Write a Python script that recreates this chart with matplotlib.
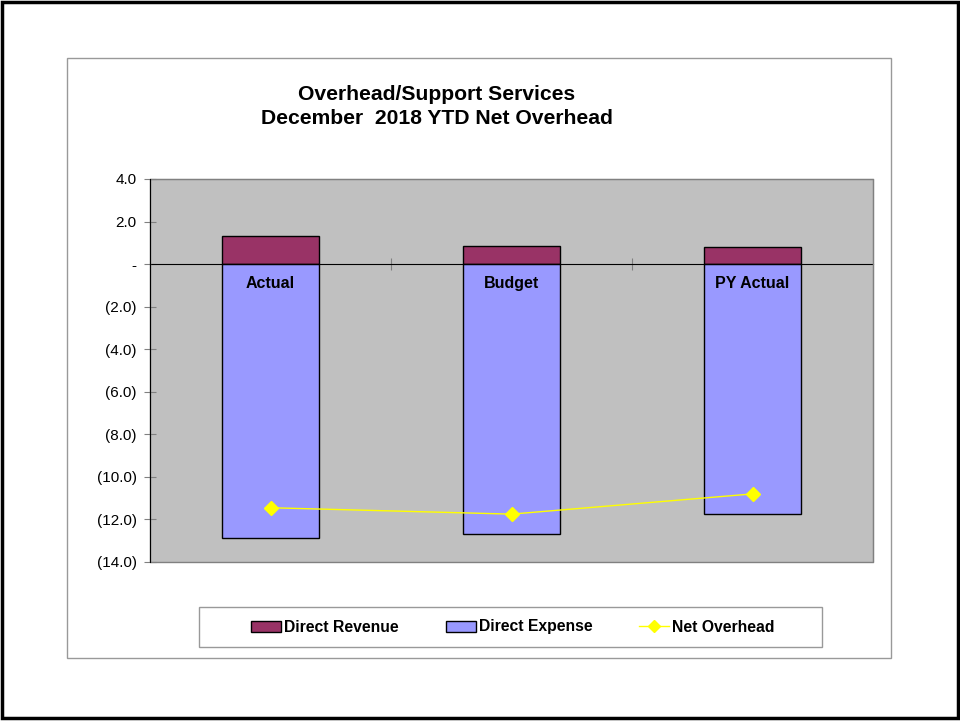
import matplotlib
matplotlib.use("Agg")
import matplotlib.pyplot as plt
from matplotlib.patches import Rectangle
from matplotlib.lines import Line2D
import numpy as np

categories = ["Actual", "Budget", "PY Actual"]
direct_revenue = [1.3, 0.85, 0.8]
direct_expense = [-12.85, -12.7, -11.75]
net_overhead = [-11.45, -11.75, -10.8]
yticks = [4, 2, 0, -2, -4, -6, -8, -10, -12, -14]
ytick_labels = ["4.0", "2.0", "-", "(2.0)", "(4.0)", "(6.0)", "(8.0)", "(10.0)", "(12.0)", "(14.0)"]

plt.rcParams['font.family'] = ['Liberation Sans', 'DejaVu Sans']

W, H = 960, 721
fig = plt.figure(figsize=(9.6, 7.21), dpi=100)

def fx(px):
    return px / W

def fy(py):
    return 1 - py / H

# outer black frame
fig.patches.append(Rectangle((fx(2), fy(718)), fx(956), 716 / H, transform=fig.transFigure,
                             fill=False, edgecolor='black', linewidth=2.5))
# chart area border
fig.patches.append(Rectangle((fx(67), fy(658)), fx(891 - 67), (658 - 58) / H, transform=fig.transFigure,
                             fill=False, edgecolor='#999999', linewidth=1))

ax = fig.add_axes([fx(150), fy(562), fx(873 - 150), (562 - 179) / H])
ax.set_facecolor('#C0C0C0')

x = np.arange(len(categories))
w = 0.4
ax.bar(x, direct_revenue, width=w, color='#993366', edgecolor='black', linewidth=1, zorder=2)
ax.bar(x, direct_expense, width=w, color='#9999FF', edgecolor='black', linewidth=1, zorder=2)
ax.plot(x, net_overhead, color='#FFFF00', linewidth=1, marker='D', markersize=7, zorder=4)

ax.set_xlim(-0.5, 2.5)
ax.set_ylim(-14, 4)
ax.set_yticks(yticks)
ax.set_yticklabels(ytick_labels, fontsize=11)
ax.tick_params(axis='y', direction='inout', length=8, color='#808080', pad=5.5)

for s in ['top', 'right']:
    ax.spines[s].set_color('#808080')
ax.spines['left'].set_color('black')
ax.spines['bottom'].set_position(('data', 0))
ax.spines['bottom'].set_color('black')
ax.spines['bottom'].set_zorder(3)
ax.set_xticks([0.5, 1.5])
ax.set_xticklabels([])
ax.tick_params(axis='x', direction='inout', length=8, color='#808080')
ax.add_patch(Rectangle((0, 0), 1, 1, transform=ax.transAxes, fill=False,
                       edgecolor='#808080', linewidth=1, zorder=5, clip_on=False))
ax.spines['left'].set_zorder(6)

for i, c in enumerate(categories):
    ax.text(x[i], -0.55, c, ha='center', va='top', fontsize=11.5, fontweight='bold', zorder=5)

fig.text(fx(437), fy(94), "Overhead/Support Services", ha='center', va='center',
         fontsize=15.2, fontweight='bold')
fig.text(fx(437), fy(118), "December  2018 YTD Net Overhead", ha='center', va='center',
         fontsize=15.2, fontweight='bold')

# legend
fig.patches.append(Rectangle((fx(199), fy(647)), fx(822 - 199), 40 / H, transform=fig.transFigure,
                             fill=False, edgecolor='#999999', linewidth=1))
handles = [Rectangle((0, 0), 1, 1, facecolor='#993366', edgecolor='black'),
           Rectangle((0, 0), 1, 1, facecolor='#9999FF', edgecolor='black'),
           Line2D([], [], color='#FFFF00', marker='D', markersize=6, linewidth=1)]
leg = fig.legend(handles, ["Direct Revenue", "Direct Expense", "Net Overhead"],
                 loc='center', bbox_to_anchor=(fx(513), fy(627)), ncol=3, frameon=False,
                 prop={'weight': 'bold', 'size': 11.3}, handlelength=1.9, handleheight=0.7,
                 handletextpad=0.2, columnspacing=3.0)

fig.savefig("out.png", dpi=100)
